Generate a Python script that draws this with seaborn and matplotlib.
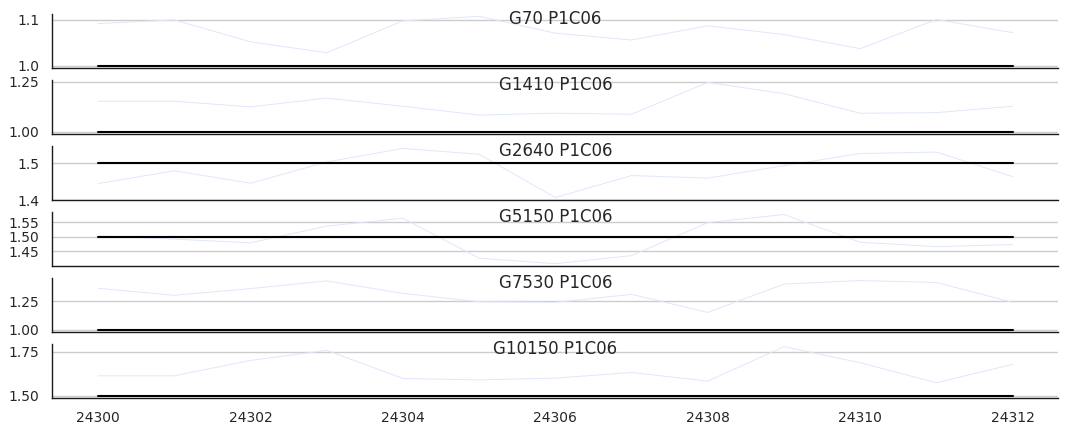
import numpy as np
import pandas as pd
import matplotlib
matplotlib.use("Agg")
import matplotlib.pyplot as plt
import seaborn as sns

# x positions shared by all panels
frames = [24300, 24301, 24302, 24303, 24304, 24305, 24306,
          24307, 24308, 24309, 24310, 24311, 24312]

titles = ["G70 P1C06", "G1410 P1C06", "G2640 P1C06",
          "G5150 P1C06", "G7530 P1C06", "G10150 P1C06"]

# measured series (faint blue line)
g70 = [1.092, 1.100, 1.052, 1.028, 1.098, 1.108, 1.071,
       1.056, 1.087, 1.068, 1.037, 1.101, 1.072]
g1410 = [1.152, 1.152, 1.124, 1.168, 1.127, 1.083, 1.092,
         1.087, 1.247, 1.190, 1.092, 1.095, 1.127]
g2640 = [1.445, 1.480, 1.446, 1.504, 1.541, 1.525, 1.407,
         1.467, 1.460, 1.494, 1.527, 1.531, 1.464]
g5150 = [1.503, 1.492, 1.479, 1.537, 1.564, 1.426, 1.407,
         1.435, 1.549, 1.577, 1.481, 1.466, 1.473]
g7530 = [1.366, 1.304, 1.363, 1.431, 1.321, 1.247, 1.242,
         1.312, 1.153, 1.403, 1.434, 1.417, 1.242]
g10150 = [1.613, 1.613, 1.700, 1.757, 1.598, 1.590, 1.600,
          1.632, 1.583, 1.778, 1.687, 1.574, 1.678]
series = [g70, g1410, g2640, g5150, g7530, g10150]

# reference level per panel (black line)
ref_levels = [1.0, 1.0, 1.5, 1.5, 1.0, 1.5]

# y ticks per panel
yticks = [[1.0, 1.1], [1.00, 1.25], [1.4, 1.5],
          [1.45, 1.50, 1.55], [1.00, 1.25], [1.50, 1.75]]
xticks = [24300, 24302, 24304, 24306, 24308, 24310, 24312]

sns.set_theme(style="whitegrid", rc={
    "axes.grid.axis": "y",
    "axes.edgecolor": ".1",
    "grid.color": ".8",
    "xtick.labelsize": 10,
    "ytick.labelsize": 10,
})

fig, axes = plt.subplots(len(series), 1, figsize=(10.68, 4.32), dpi=100, sharex=True)
fig.subplots_adjust(left=0.049, right=0.991, top=0.968, bottom=0.078, hspace=0.22)

for ax, title, vals, ref, yt in zip(axes, titles, series, ref_levels, yticks):
    df = pd.DataFrame({"frame": frames, "value": vals, "ref": [ref] * len(frames)})
    sns.lineplot(data=df, x="frame", y="value", ax=ax, color="#e0e7fc", lw=0.7)
    sns.lineplot(data=df, x="frame", y="ref", ax=ax, color="black", lw=1.5)
    ax.set_yticks(yt)
    ax.set_xlabel("")
    ax.set_ylabel("")
    ax.text(0.5, 0.91, title, transform=ax.transAxes, ha="center", va="center",
            fontsize=12, color=".15")
    sns.despine(ax=ax)
    for s in ["left", "bottom"]:
        ax.spines[s].set_linewidth(1.0)

axes[-1].set_xticks(xticks)
axes[-1].set_xticklabels([str(t) for t in xticks])

plt.savefig("out.png", dpi=100)
plt.close()
